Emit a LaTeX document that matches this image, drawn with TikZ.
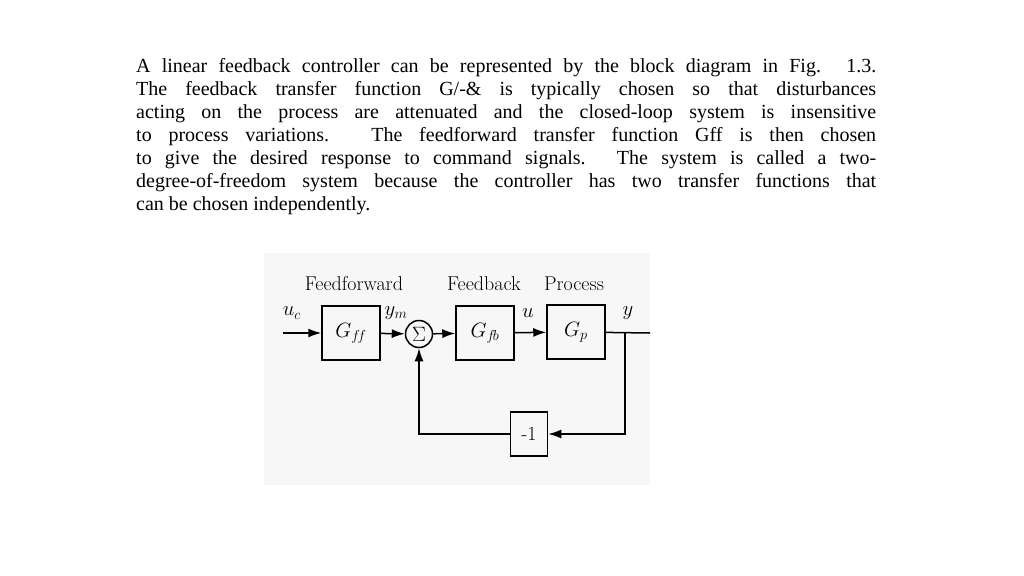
\documentclass[tikz,border=0pt]{standalone}
\usepackage{fontspec}
\newfontfamily\bodyfont{Liberation Serif}
\usetikzlibrary{arrows.meta,positioning}
\tikzset{
  blk/.style={draw,line width=1.5pt,minimum width=58pt,minimum height=54pt,font=\fontsize{20}{20}\selectfont},
  sig/.style={->,line width=1.5pt,>={Latex[length=13pt,width=9pt]}},
  lbl/.style={font=\fontsize{20}{20}\selectfont}
}
\begin{document}
\begin{tikzpicture}[x=1pt,y=-1pt]
      \useasboundingbox (0,0) rectangle (1024,575);
      \fill[black!3] (264,253) rectangle (650,485);

      % text above the figure
      \node[anchor=north west,inner sep=0pt,text width=740pt,align=justify,
            font=\bodyfont\fontsize{20}{23}\selectfont] (para) at (136,58)
      {A linear feedback controller can be represented by the block diagram in Fig. 1.3.\linebreak
       The feedback transfer function G/-\& is typically chosen so that disturbances\linebreak
       acting on the process are attenuated and the closed-loop system is insensitive\linebreak
       to process variations. The feedforward transfer function Gff is then chosen\linebreak
       to give the desired response to command signals. The system is called a two-\linebreak
       degree-of-freedom system because the controller has two transfer functions that\linebreak
       can be chosen independently.};

      % blocks
      \node[blk] (gff) at (351,333) {$G_{f\!f}$};
      \node[circle,draw,line width=1.5pt,minimum size=27pt,inner sep=0pt,lbl] (sum) at (419,334) {$\Sigma$};
      \node[blk] (gfb) at (485,333) {$G_{f\!b}$};
      \node[blk] (gp) at (576,332) {$G_p$};
      \node[blk,minimum width=37pt,minimum height=44pt] (neg) at (529,434) {-1};
      \coordinate (in) at (283,333);
      \coordinate (out) at (650,333);
      \coordinate (tap) at (625,333);

      % signals
      \draw[sig] (in) -- (gff);
      \draw[sig] (gff) -- (sum);
      \draw[sig] (sum) -- (gfb);
      \draw[sig] (gfb) -- (gp);
      \draw[line width=1.5pt] (gp) -- (out);
      \draw[sig] (tap) |- (neg);
      \draw[sig] (neg) -| (sum);

      % labels
      \node[lbl] (lff) at (354,284) {Feedforward};
      \node[lbl] (lfb) at (484,284) {Feedback};
      \node[lbl] (lp) at (574,284) {Process};
      \node[lbl] (luc) at (292,313) {$u_c$};
      \node[lbl] (lym) at (396,313) {$y_m$};
      \node[lbl] (lu) at (528,313) {$u$};
      \node[lbl] (ly) at (628,313) {$y$};
\end{tikzpicture}
\end{document}
